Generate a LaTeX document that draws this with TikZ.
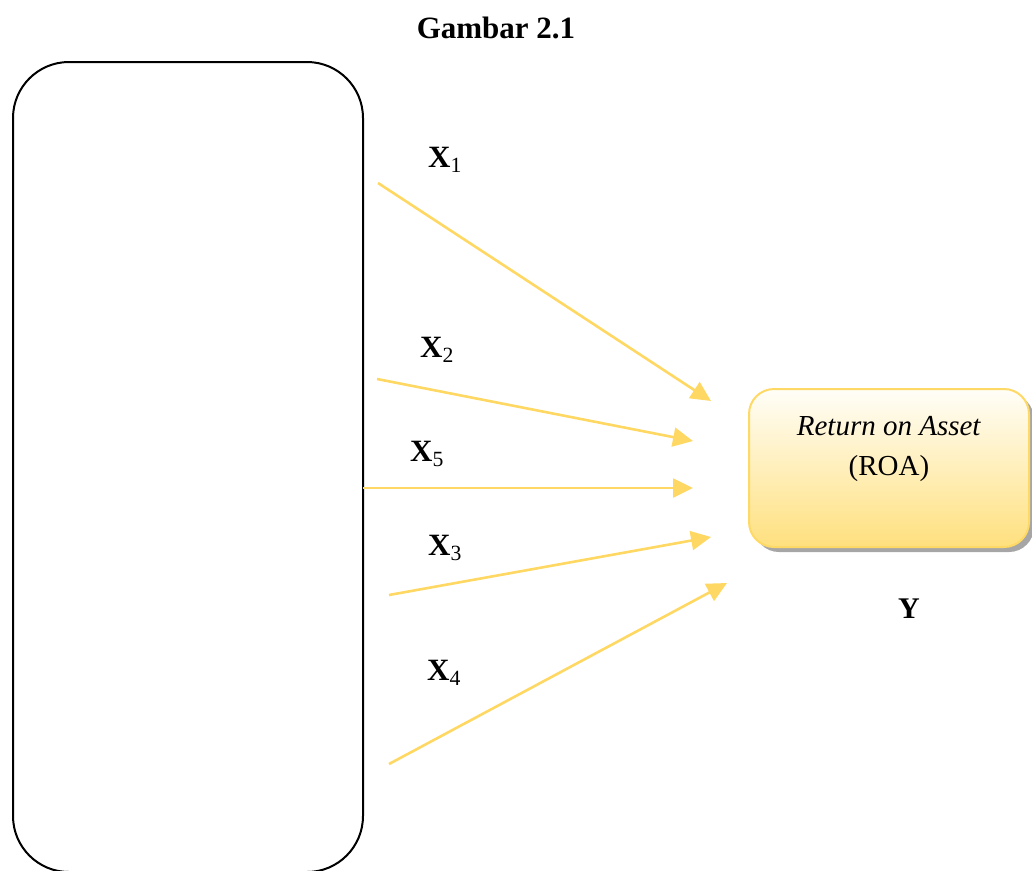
\documentclass[tikz,border=0pt]{standalone}
\usepackage{fontspec}
\setmainfont{Liberation Serif}
\usetikzlibrary{arrows.meta}
\definecolor{linkyellow}{HTML}{FFD863}
\definecolor{boxedge}{HTML}{FFD966}
\definecolor{boxtop}{HTML}{FFFEF8}
\definecolor{boxbottom}{HTML}{FFE07E}
\definecolor{shadowgray}{HTML}{A6A6A6}
\begin{document}
\begin{tikzpicture}[x=1pt,y=-1pt,
  link/.style={draw=linkyellow, line width=2.6pt,
    -{Triangle[length=20pt,width=19pt]}},
  varlabel/.style={font=\fontsize{31}{36}\selectfont, anchor=base west, inner sep=0pt},
  sourcebox/.style={draw=black, line width=2pt, rounded corners=56pt,
    minimum width=350pt, minimum height=810pt, inner sep=0pt},
  roabox/.style={draw=boxedge, line width=2pt, rounded corners=25pt,
    minimum width=280pt, minimum height=158pt, inner sep=0pt,
    top color=boxtop, bottom color=boxbottom},
  roashadow/.style={fill=shadowgray, rounded corners=25pt,
    minimum width=280pt, minimum height=158pt, inner sep=0pt}]
\useasboundingbox (0,0) rectangle (1032,870);

% title
\node[font=\fontsize{31}{37}\selectfont\bfseries] (title) at (496,28) {Gambar 2.1};

% large source frame on the left (runs past the lower edge)
\begin{scope}
  \clip (0,0) rectangle (1032,870);
  \node[sourcebox] (src) at (188,467) {};
\end{scope}

% dependent variable box with its shadow
\node[roashadow] (roashade) at (894,473) {};
\node[roabox] (roa) at (889,468) {};
\node[font=\fontsize{29}{40}\selectfont, align=center, anchor=base] (roatext)
  at (889,475) {\textit{Return on Asset}\\(ROA)};
\node[font=\fontsize{30}{34}\selectfont\bfseries, anchor=base west, inner sep=0pt]
  (ylab) at (898,618) {Y};

% start and end points of the links
\coordinate (s1) at (378,183);
\coordinate (e1) at (711,401);
\coordinate (s2) at (377,379);
\coordinate (e2) at (693,441);
\coordinate (s5) at (363,488);
\coordinate (e5) at (693,488);
\coordinate (s3) at (389,595);
\coordinate (e3) at (711,537);
\coordinate (s4) at (389,764);
\coordinate (e4) at (727,583);

\draw[link] (s1) -- (e1);
\draw[link] (s2) -- (e2);
\draw[link] (s5) -- (e5);
\draw[link] (s3) -- (e3);
\draw[link] (s4) -- (e4);

% variable labels
\node[varlabel] (x1) at (428,167) {\textbf{X}\textsubscript{1}};
\node[varlabel] (x2) at (420,357) {\textbf{X}\textsubscript{2}};
\node[varlabel] (x5) at (410,461) {\textbf{X}\textsubscript{5}};
\node[varlabel] (x3) at (428,555) {\textbf{X}\textsubscript{3}};
\node[varlabel] (x4) at (427,680) {\textbf{X}\textsubscript{4}};
\end{tikzpicture}
\end{document}
